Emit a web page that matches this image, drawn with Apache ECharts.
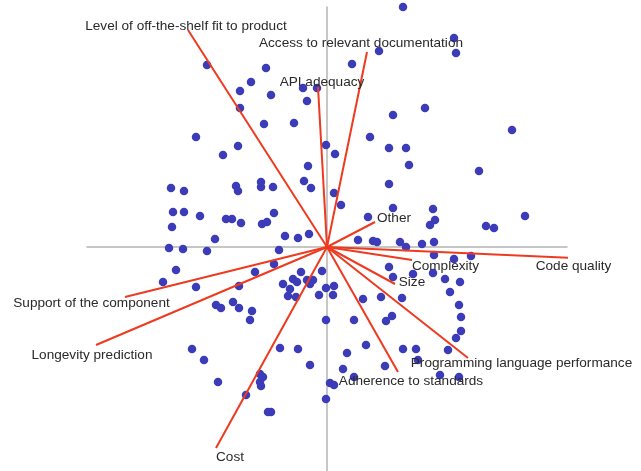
<!DOCTYPE html>
<html>
<head>
<meta charset="utf-8">
<script src="https://cdn.jsdelivr.net/npm/echarts@6/dist/echarts.min.js"></script>
<style>
  html, body { margin: 0; padding: 0; background: #fff; }
  #chart { width: 641px; height: 471px; }
</style>
</head>
<body>
<div id="chart"></div>
<script>
// Observation scores (first two components)
const scoreX = [
  -1.20, -0.61, -0.76, -0.87, -0.56, -0.24, -0.10, -0.20, -0.87, -0.63, -0.33, -1.31, -0.89, -1.04,
  -0.19, -0.23, -0.16, -0.91, -0.89, -0.66, -0.66, -0.54, -1.56, -1.43, -1.54, -1.43, -1.27, -1.01,
  -0.95, -0.86, -0.65, -0.60, -0.53, -1.55, -1.12, -0.42, -0.29, -0.18, -0.01, -1.58, -1.44, -1.20, -0.48,
  0.76, 1.27, 1.29, 0.52, 0.25, 0.98, 0.66, 1.85, 0.43, 0.62, 0.79, 0.08, 0.82, 1.52, 0.62, 0.07,
  0.14, 0.66, 1.06, 1.08, 1.03, 0.41, 1.59, 1.67, 1.98, 0.31, 0.46, 0.50, 0.73, 0.79, 0.95, 1.07,
  1.07, 1.27, 1.44, 0.62, 0.86, 1.06, 1.18, 1.33, 0.66, -0.01, 0.07, 0.06, 0.36, 0.54, 0.75, 1.23,
  1.32, 1.34, 1.34, 1.29, 1.21, 0.65, 0.59, 0.27, -0.01, 0.39, 0.20, 0.76, 0.89, 0.91, 0.58, 0.16,
  0.27, 0.03, 0.07, -0.01, 1.13, 1.32,
  -1.51, -1.64, -1.31, -0.72, -0.53, -0.88, -0.44, -0.37, -0.39, -0.31, -0.34, -0.30, -0.26, -0.20,
  -0.14, -0.17, -0.05, -0.08, -1.11, -1.06, -0.94, -0.88, -0.75, -0.77, -1.35, -1.23, -1.09, -0.47,
  -0.29, -0.17, -0.81, -0.67, -0.64, -0.67, -0.66, -0.59, -0.56
];
const scoreY = [
  1.82, 1.79, 1.65, 1.56, 1.52, 1.59, 1.59, 1.46, 1.39, 1.23, 1.24, 1.10, 1.01, 0.92,
  0.81, 0.66, 0.59, 0.61, 0.56, 0.65, 0.60, 0.60, 0.59, 0.56, 0.35, 0.35, 0.31, 0.28,
  0.28, 0.24, 0.23, 0.25, 0.34, 0.20, 0.08, 0.11, 0.09, 0.13, 1.02, -0.01, -0.02, -0.04, -0.03,
  2.40, 2.09, 1.94, 1.96, 1.83, 1.39, 1.32, 1.17, 1.10, 0.99, 0.99, 0.93, 0.82, 0.76, 0.63, 0.54,
  0.42, 0.39, 0.38, 0.27, 0.22, 0.30, 0.21, 0.19, 0.31, 0.07, 0.06, 0.05, 0.05, 0.00, 0.03, 0.05,
  -0.08, -0.12, -0.09, -0.20, -0.27, -0.26, -0.32, -0.35, -0.30, -0.41, -0.39, -0.48, -0.52, -0.50, -0.51, -0.45,
  -0.58, -0.70, -0.84, -0.91, -1.03, -0.69, -0.74, -0.73, -0.73, -0.98, -1.06, -1.02, -1.02, -1.13, -1.19, -1.22,
  -1.30, -1.36, -1.38, -1.52, -1.28, -1.30,
  -0.23, -0.35, -0.40, -0.25, -0.17, -0.39, -0.37, -0.42, -0.49, -0.50, -0.32, -0.35, -0.25, -0.33,
  -0.33, -0.37, -0.24, -0.48, -0.58, -0.61, -0.55, -0.61, -0.64, -0.73, -1.02, -1.13, -1.35, -1.01,
  -1.02, -1.18, -1.48, -1.27, -1.30, -1.35, -1.39, -1.65, -1.65
];

// Variable loadings
const loadingNames = [
  'Level of off-the-shelf fit to product',
  'Access to relevant documentation',
  'API adequacy',
  'Other',
  'Complexity',
  'Code quality',
  'Size',
  'Programming language performance',
  'Adherence to standards',
  'Cost',
  'Longevity prediction',
  'Support of the component'
];
const loadingX = [-1.39, 0.40, -0.09, 0.48, 0.85, 2.46, 0.68, 1.41, 0.71, -1.11, -2.31, -2.02];
const loadingY = [2.17, 1.95, 1.60, 0.25, -0.13, -0.11, -0.37, -1.11, -1.25, -2.01, -0.98, -0.50];

// Pixel nudges for each variable label (centre of text relative to arrow tip)
const labelNudge = [
  [-2, -4], [-6, -8.5], [4, -5], [19, -4], [33.5, 6], [0.5, 8],
  [17, -1.5], [53.5, 5], [13, 9], [14, 9.5], [-4, 10.5], [-33.5, 6.5]
];

const chart = echarts.init(document.getElementById('chart'), null, { renderer: 'canvas' });

const series = [{
  type: 'scatter',
  z: 2,
  clip: false,
  symbolSize: 8.5,
  itemStyle: { color: '#3c3cb8', opacity: 1 },
  data: scoreX.map((x, i) => [x, scoreY[i]])
}];

loadingNames.forEach((name, i) => {
  series.push({
    type: 'line',
    name: name,
    z: 3,
    clip: false,
    silent: true,
    symbol: 'circle',
    symbolSize: 0.01,
    lineStyle: { color: '#ee3a1f', width: 2 },
    itemStyle: { color: '#ee3a1f' },
    data: [
      { value: [0, 0] },
      {
        value: [loadingX[i], loadingY[i]],
        label: {
          show: true,
          formatter: name,
          position: [0, 0],
          align: 'center',
          verticalAlign: 'middle',
          offset: labelNudge[i],
          color: '#2a2a2a',
          fontSize: 13.6,
          fontFamily: 'Liberation Sans, Arial, sans-serif'
        }
      }
    ]
  });
});

chart.setOption({
  animation: false,
  backgroundColor: '#ffffff',
  grid: { left: 87, width: 480, top: 7, height: 464, containLabel: false },
  xAxis: {
    type: 'value', min: -2.4, max: 2.4,
    axisLine: { onZero: true, lineStyle: { color: '#b4b4b4', width: 1.5 } },
    axisTick: { show: false }, axisLabel: { show: false }, splitLine: { show: false }
  },
  yAxis: {
    type: 'value', min: -2.24, max: 2.40,
    axisLine: { onZero: true, lineStyle: { color: '#b4b4b4', width: 1.5 } },
    axisTick: { show: false }, axisLabel: { show: false }, splitLine: { show: false }
  },
  series: series
});
</script>
</body>
</html>
